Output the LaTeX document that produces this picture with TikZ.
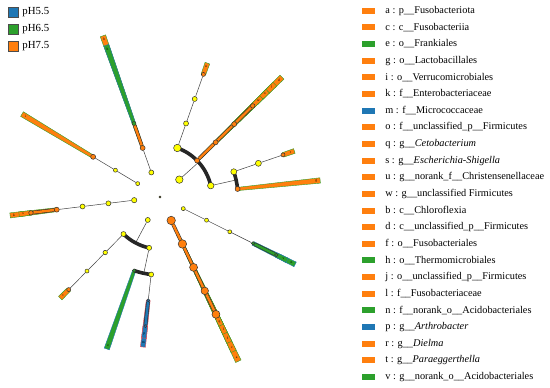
\documentclass[tikz,border=0pt]{standalone}
\usepackage{fontspec}
\setmainfont{Liberation Serif}
\usetikzlibrary{calc,positioning,backgrounds}
\pgfdeclarelayer{hl}
\pgfsetlayers{hl,background,main}
\definecolor{orgc}{RGB}{255,127,14}
\definecolor{grnc}{RGB}{44,160,44}
\definecolor{bluc}{RGB}{31,119,180}
\definecolor{yelc}{RGB}{255,255,0}
\tikzset{clade/.style={circle,draw=black!80,line width=0.5pt,inner sep=0pt,fill=yelc},
  sig/.style={clade,fill=#1},
  link/.style={draw=black!75,line width=0.5pt},
  siglink/.style={draw=black!80,line width=0.6pt,double=#1,double distance=2.4pt},
  arcl/.style={draw=black!85,line width=3.6pt},
  tag/.style={font=\fontsize{3.6}{4}\selectfont,inner sep=0pt},
  swatch/.style={rectangle,minimum width=13pt,minimum height=6pt,inner sep=0pt},
  phbox/.style={rectangle,draw=black!70,line width=0.6pt,minimum size=10pt,inner sep=0pt},
  key/.style={anchor=west,inner sep=0pt,font=\fontsize{10.3}{12}\selectfont}}
% highlight bar: angle, inner r, outer r, fill, edge, letter
\newcommand{\hlbar}[6]{%
  \pgfmathsetmacro{\wi}{0.6+0.013*#2}\pgfmathsetmacro{\wo}{0.6+0.013*#3}%
  \draw[fill=#4,draw=#5,line width=0.4pt] ($(#1:#2)+(#1+90:\wi)$) -- ($(#1:#3)+(#1+90:\wo)$)
    -- ($(#1:#3)+(#1-90:\wo)$) -- ($(#1:#2)+(#1-90:\wi)$) -- cycle;
  \node[tag] at (#1:#3-4) {#6};}

\begin{document}
\begin{tikzpicture}[x=1pt,y=1pt]
\useasboundingbox (0,0) rectangle (550,-388);

% group legend
\foreach \lab/\col [count=\i] in {pH5.5/bluc,pH6.5/grnc,pH7.5/orgc}{
  \node[phbox,fill=\col] (ph\i) at (13,{-12-17*(\i-1)}) {};
  \node[key,font=\fontsize{10.8}{12}\selectfont,right=4pt of ph\i] {\lab};}

% clade legend
\foreach \lab/\col [count=\i] in {a : p\_\_Fusobacteriota/orgc, c : c\_\_Fusobacteriia/orgc,
  e : o\_\_Frankiales/grnc, g : o\_\_Lactobacillales/orgc, i : o\_\_Verrucomicrobiales/orgc,
  k : f\_\_Enterobacteriaceae/orgc, m : f\_\_Micrococcaceae/bluc,
  o : f\_\_unclassified\_p\_\_Firmicutes/orgc, q : g\_\_\textit{Cetobacterium}/orgc,
  s : g\_\_\textit{Escherichia-Shigella}/orgc, u : g\_\_norank\_f\_\_Christensenellaceae/orgc,
  w : g\_\_unclassified Firmicutes/orgc, b : c\_\_Chloroflexia/orgc,
  d : c\_\_unclassified\_p\_\_Firmicutes/orgc, f : o\_\_Fusobacteriales/orgc,
  h : o\_\_Thermomicrobiales/grnc, j : o\_\_unclassified\_p\_\_Firmicutes/orgc,
  l : f\_\_Fusobacteriaceae/orgc, n : f\_\_norank\_o\_\_Acidobacteriales/grnc,
  p : g\_\_\textit{Arthrobacter}/bluc, r : g\_\_\textit{Dielma}/orgc,
  t : g\_\_\textit{Paraeggerthella}/orgc, v : g\_\_norank\_o\_\_Acidobacteriales/grnc}{
  \node[swatch,fill=\col] (key\i) at (368.5,{-10.7-16.65*(\i-1)}) {};
  \node[key,right=10pt of key\i] {\lab};}

\begin{scope}[shift={(160,-197)}]
\node[clade,minimum size=2.2pt,fill=olive] (root) at (0,0) {};
% Chloroflexi
\node[clade,minimum size=5pt] (cf1) at (109.5:26) {};
\node[sig=orgc,minimum size=5pt] (cf2) at (109.5:52) {};
\node[sig=grnc,minimum size=4pt] (cf3) at (109.5:78) {};
% Verrucomicrobiota
\node[clade,minimum size=4pt] (ve1) at (149:26) {};
\node[clade,minimum size=4pt] (ve2) at (149:52) {};
\node[sig=orgc,minimum size=5pt] (ve3) at (149:78) {};
% Firmicutes
\node[clade,minimum size=7.5pt] (fi1) at (42:26) {};
\coordinate (fi1a) at (42:52);
\node[clade,minimum size=7.5pt] (fa2) at (70.5:52) {};
\node[clade,minimum size=5pt] (fa3) at (70.5:78) {};
\node[clade,minimum size=5pt] (fa4) at (70.5:104) {};
\node[sig=orgc,minimum size=4pt] (fa5) at (70.5:130) {};
\node[sig=orgc,minimum size=5pt] (fb2) at (44.5:52) {};
\node[sig=orgc,minimum size=5pt] (fb3) at (44.5:78) {};
\node[sig=orgc,minimum size=5pt] (fb4) at (44.5:104) {};
\node[sig=orgc,minimum size=4.5pt] (fb5) at (44.5:130) {};
\node[clade,minimum size=6.5pt] (fc2) at (12.6:52) {};
\coordinate (fc2a) at (12.6:78);
\node[clade,minimum size=6pt] (fc3) at (18.9:78) {};
\node[clade,minimum size=6pt] (fc4) at (18.9:104) {};
\node[sig=orgc,minimum size=4pt] (fc5) at (18.9:130) {};
\node[sig=orgc,minimum size=5pt] (fd3) at (5.9:78) {};
% Proteobacteria
\node[clade,minimum size=5.3pt] (pr1) at (187:26) {};
\node[clade,minimum size=5pt] (pr2) at (187:52) {};
\node[clade,minimum size=5pt] (pr3) at (187:78) {};
\node[sig=orgc,minimum size=5pt] (pr4) at (187:104) {};
\node[sig=orgc,minimum size=4.5pt] (pr5) at (187:130) {};
% Actinobacteriota
\node[clade,minimum size=5pt] (ac1) at (242:26) {};
\coordinate (ac1a) at (242:52);
\node[clade,minimum size=5pt] (aa2) at (225.4:52) {};
\node[clade,minimum size=4.5pt] (aa3) at (225.4:78) {};
\node[clade,minimum size=4pt] (aa4) at (225.4:104) {};
\node[sig=orgc,minimum size=4pt] (aa5) at (225.4:130) {};
\node[clade,minimum size=5pt] (ab2) at (258:52) {};
\coordinate (ab2a) at (258:78);
\node[sig=grnc,minimum size=3.5pt] (ae3) at (250.7:78) {};
\node[clade,minimum size=5pt] (am3) at (263.5:78) {};
\node[sig=bluc,minimum size=3pt] (am4) at (263.5:104) {};
\node[sig=bluc,minimum size=3pt] (am5) at (263.5:130) {};
% Fusobacteriota
\node[sig=orgc,minimum size=8.5pt] (fu1) at (295.5:26) {};
\node[sig=orgc,minimum size=8.5pt] (fu2) at (295.5:52) {};
\node[sig=orgc,minimum size=8pt] (fu3) at (295.5:78) {};
\node[sig=orgc,minimum size=7.5pt] (fu4) at (295.5:104) {};
\node[sig=orgc,minimum size=8pt] (fu5) at (295.5:130) {};
% Acidobacteriota
\node[clade,minimum size=4pt] (ad1) at (333.5:26) {};
\node[clade,minimum size=4pt] (ad2) at (333.5:52) {};
\node[clade,minimum size=4pt] (ad3) at (333.5:78) {};
\node[sig=grnc,minimum size=3.5pt] (ad4) at (333.5:104) {};
\node[sig=grnc,minimum size=3.5pt] (ad5) at (333.5:130) {};

\begin{pgfonlayer}{background}
\draw[link] (cf1) -- (cf2);
\draw[siglink=orgc] (cf2) -- (cf3);
\draw[link] (ve1) -- (ve2) -- (ve3);
\draw[link] (fi1) -- (fi1a);
\draw[arcl] (fa2.center) arc[start angle=70.5,end angle=12.6,radius=52];
\draw[link] (fa2) -- (fa3) -- (fa4) -- (fa5);
\draw[siglink=orgc] (fb2) -- (fb3) -- (fb4) -- (fb5);
\draw[link] (fc2) -- (fc2a);
\draw[arcl] (fc3.center) arc[start angle=18.9,end angle=5.9,radius=78];
\draw[link] (fc3) -- (fc4) -- (fc5);
\draw[link] (pr1) -- (pr2) -- (pr3) -- (pr4);
\draw[siglink=orgc] (pr4) -- (pr5);
\draw[link] (ac1) -- (ac1a);
\draw[arcl] (aa2.center) arc[start angle=225.4,end angle=258,radius=52];
\draw[link] (aa2) -- (aa3) -- (aa4) -- (aa5);
\draw[link] (ab2) -- (ab2a);
\draw[arcl] (ae3.center) arc[start angle=250.7,end angle=263.5,radius=78];
\draw[link] (am3) -- (am4);
\draw[siglink=bluc] (am4) -- (am5);
\draw[siglink=orgc] (fu1) -- (fu2) -- (fu3) -- (fu4) -- (fu5);
\draw[link] (ad1) -- (ad2) -- (ad3) -- (ad4);
\draw[siglink=grnc] (ad4) -- (ad5);
\end{pgfonlayer}

\begin{pgfonlayer}{hl}
\hlbar{109.5}{52}{171}{orgc}{grnc}{b}
\hlbar{109.5}{78}{161}{grnc}{bluc}{h}
\hlbar{149}{78}{161}{orgc}{grnc}{i}
\hlbar{70.5}{130}{142}{orgc}{grnc}{u}
\hlbar{44.5}{52}{171}{orgc}{grnc}{d}
\hlbar{44.5}{78}{161}{orgc}{grnc}{j}
\hlbar{44.5}{104}{151}{orgc}{grnc}{o}
\hlbar{44.5}{130}{142}{orgc}{grnc}{w}
\hlbar{18.9}{130}{142}{orgc}{grnc}{r}
\hlbar{5.9}{78}{161}{orgc}{grnc}{g}
\hlbar{187}{104}{151}{orgc}{grnc}{k}
\hlbar{187}{130}{142}{orgc}{grnc}{s}
\hlbar{225.4}{130}{142}{orgc}{grnc}{t}
\hlbar{250.7}{78}{161}{grnc}{bluc}{e}
\hlbar{263.5}{104}{151}{bluc}{red!70}{m}
\hlbar{263.5}{130}{142}{bluc}{red!70}{p}
\hlbar{295.5}{26}{182}{orgc}{grnc}{a}
\hlbar{295.5}{52}{171}{orgc}{grnc}{c}
\hlbar{295.5}{78}{161}{orgc}{grnc}{f}
\hlbar{295.5}{104}{151}{orgc}{grnc}{l}
\hlbar{295.5}{130}{142}{orgc}{grnc}{q}
\hlbar{333.5}{104}{151}{grnc}{bluc}{n}
\hlbar{333.5}{130}{142}{grnc}{bluc}{v}
\end{pgfonlayer}
\end{scope}
\end{tikzpicture}
\end{document}
